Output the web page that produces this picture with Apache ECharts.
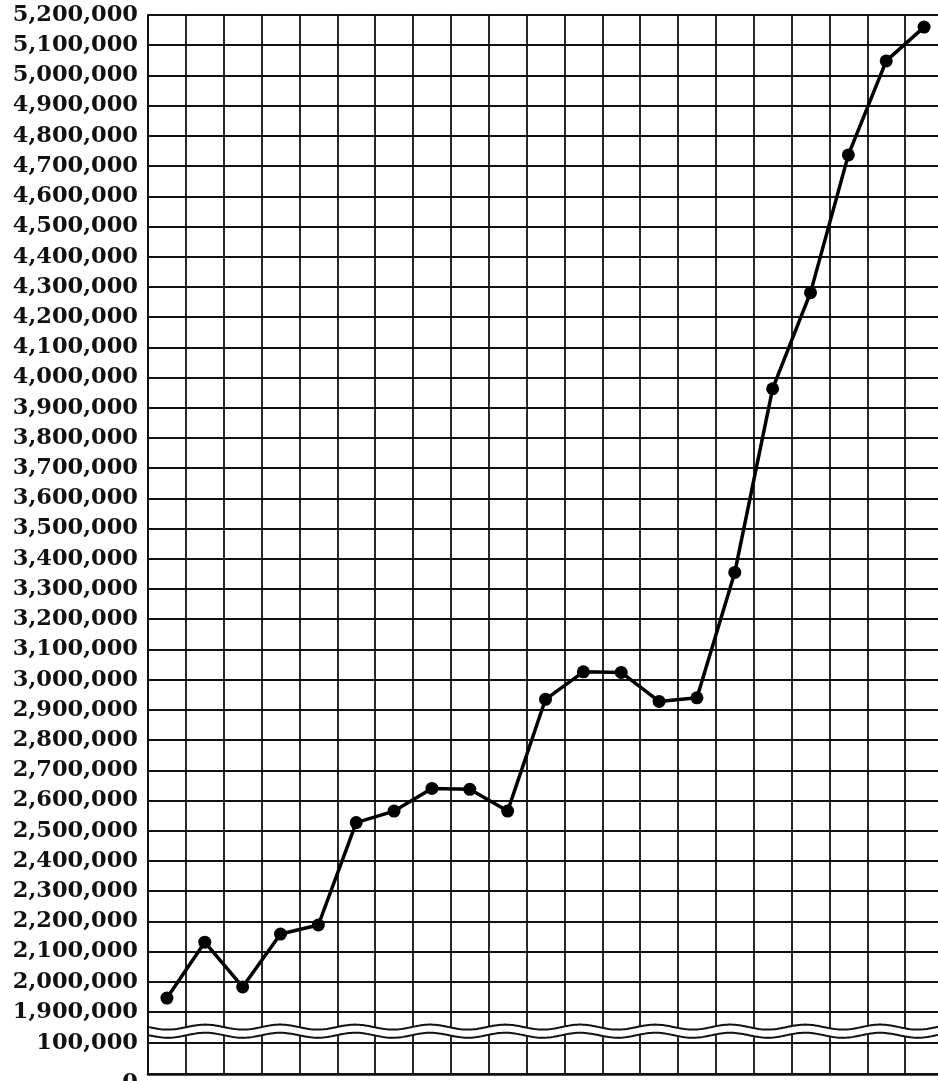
<!DOCTYPE html>
<html>
<head>
<meta charset="utf-8">
<title>Growth chart</title>
<script src="https://cdn.jsdelivr.net/npm/echarts@6/dist/echarts.min.js"></script>
<style>
  html, body { margin: 0; padding: 0; background: #fff; }
  #chart { width: 938px; height: 1081px; }
</style>
</head>
<body>
<div id="chart"></div>
<script>
// Periods along the horizontal axis (unlabelled columns)
const periods = ['1', '2', '3', '4', '5', '6', '7', '8', '9', '10', '11',
                 '12', '13', '14', '15', '16', '17', '18', '19', '20', '21'];

// Plotted totals, one per period
const totals = [1946000, 2131000, 1983000, 2158000, 2188000, 2527000, 2565000,
                2640000, 2637000, 2565000, 2935000, 3026000, 3024000, 2928000,
                2940000, 3355000, 3963000, 4281000, 4737000, 5048000, 5160000];

// Upper scale (where the data lies) and the short lower scale from zero;
// the range in between is cut out and marked with a wavy break.
const upperMin = 1900000;
const upperMax = 5200000;
const lowerMin = 0;
const lowerMax = 100000;
const yStep = 100000;

const ink = '#111';
const labelFont = {
  color: ink,
  fontFamily: 'DejaVu Serif',
  fontWeight: 'bold',
  fontSize: 22.5
};

function withCommas(v) {
  return String(v).replace(/\B(?=(\d{3})+(?!\d))/g, ',');
}

// the zero label hangs just below the base rule
function lowerLabel(v) {
  return v === lowerMin ? '{base|' + withCommas(v) + '}' : withCommas(v);
}

const chart = echarts.init(document.getElementById('chart'), null, { renderer: 'canvas' });

const hidden = { show: false };

chart.setOption({
  animation: false,
  backgroundColor: '#fff',
  grid: [
    // full-height frame carrying the vertical rules and the axis lines
    { left: 148, right: -5, top: 15, bottom: 7, outerBoundsMode: 'none' },
    // upper scale
    { left: 148, right: -5, top: 15, bottom: 69, outerBoundsMode: 'none' },
    // lower scale
    { left: 148, right: -5, top: 1043, bottom: 7, outerBoundsMode: 'none' }
  ],
  xAxis: [
    {
      gridIndex: 0, type: 'category', data: periods, boundaryGap: true,
      axisLine: { show: true, lineStyle: { color: ink, width: 2.5 } },
      axisTick: hidden, axisLabel: hidden,
      splitLine: { show: true, lineStyle: { color: ink, width: 1.8 } }
    },
    {
      gridIndex: 1, type: 'category', data: periods, boundaryGap: true,
      axisLine: hidden, axisTick: hidden, axisLabel: hidden, splitLine: hidden
    },
    {
      gridIndex: 2, type: 'category', data: periods, boundaryGap: true,
      axisLine: hidden, axisTick: hidden, axisLabel: hidden, splitLine: hidden
    }
  ],
  yAxis: [
    {
      gridIndex: 0, type: 'value', min: 0, max: 1,
      axisLine: { show: true, lineStyle: { color: ink, width: 2 } },
      axisTick: hidden, axisLabel: hidden, splitLine: hidden
    },
    {
      gridIndex: 1, type: 'value', min: upperMin, max: upperMax, interval: yStep,
      axisLine: hidden, axisTick: hidden,
      axisLabel: Object.assign({ show: true, margin: 10, formatter: withCommas }, labelFont),
      splitLine: { show: true, lineStyle: { color: ink, width: 1.8 } }
    },
    {
      gridIndex: 2, type: 'value', min: lowerMin, max: lowerMax, interval: yStep,
      axisLine: hidden, axisTick: hidden,
      axisLabel: Object.assign({
        show: true, margin: 10, formatter: lowerLabel,
        rich: { base: Object.assign({ padding: [18, 0, 0, 0] }, labelFont) }
      }, labelFont),
      splitLine: { show: true, lineStyle: { color: ink, width: 1.8 } }
    }
  ],
  series: [{
    type: 'line',
    xAxisIndex: 1,
    yAxisIndex: 1,
    data: totals,
    symbol: 'circle',
    symbolSize: 13,
    lineStyle: { color: '#000', width: 3.5 },
    itemStyle: { color: '#000' },
    z: 10
  }]
});

// Wavy break between the two scales: a white band bounded by two wavy rules,
// placed half a step below the upper scale and a quarter step above the lower one.
(function drawBreak() {
  const first = chart.convertToPixel({ xAxisIndex: 0 }, periods[0]);
  const second = chart.convertToPixel({ xAxisIndex: 0 }, periods[1]);
  const half = (second - first) / 2;
  const x0 = first - half + 1;
  const x1 = 950;
  const yTop = chart.convertToPixel({ yAxisIndex: 1 }, upperMin - yStep / 2);
  const yBottom = chart.convertToPixel({ yAxisIndex: 2 }, lowerMax + yStep / 4);
  const period = 75;
  const amp = 2.5;
  const upper = [];
  const lower = [];
  for (let x = x0; x <= x1; x += 2) {
    const s = Math.sin((x - x0) / period * 2 * Math.PI);
    upper.push([x, yTop + amp * s]);
    lower.push([x, yBottom + amp * s]);
  }
  const band = upper.concat(lower.slice().reverse());
  chart.setOption({
    graphic: [
      { type: 'polygon', shape: { points: band }, style: { fill: '#fff' }, z: 5 },
      { type: 'polyline', shape: { points: upper }, style: { stroke: ink, lineWidth: 2, fill: null }, z: 6 },
      { type: 'polyline', shape: { points: lower }, style: { stroke: ink, lineWidth: 2, fill: null }, z: 6 }
    ]
  });
})();
</script>
</body>
</html>
